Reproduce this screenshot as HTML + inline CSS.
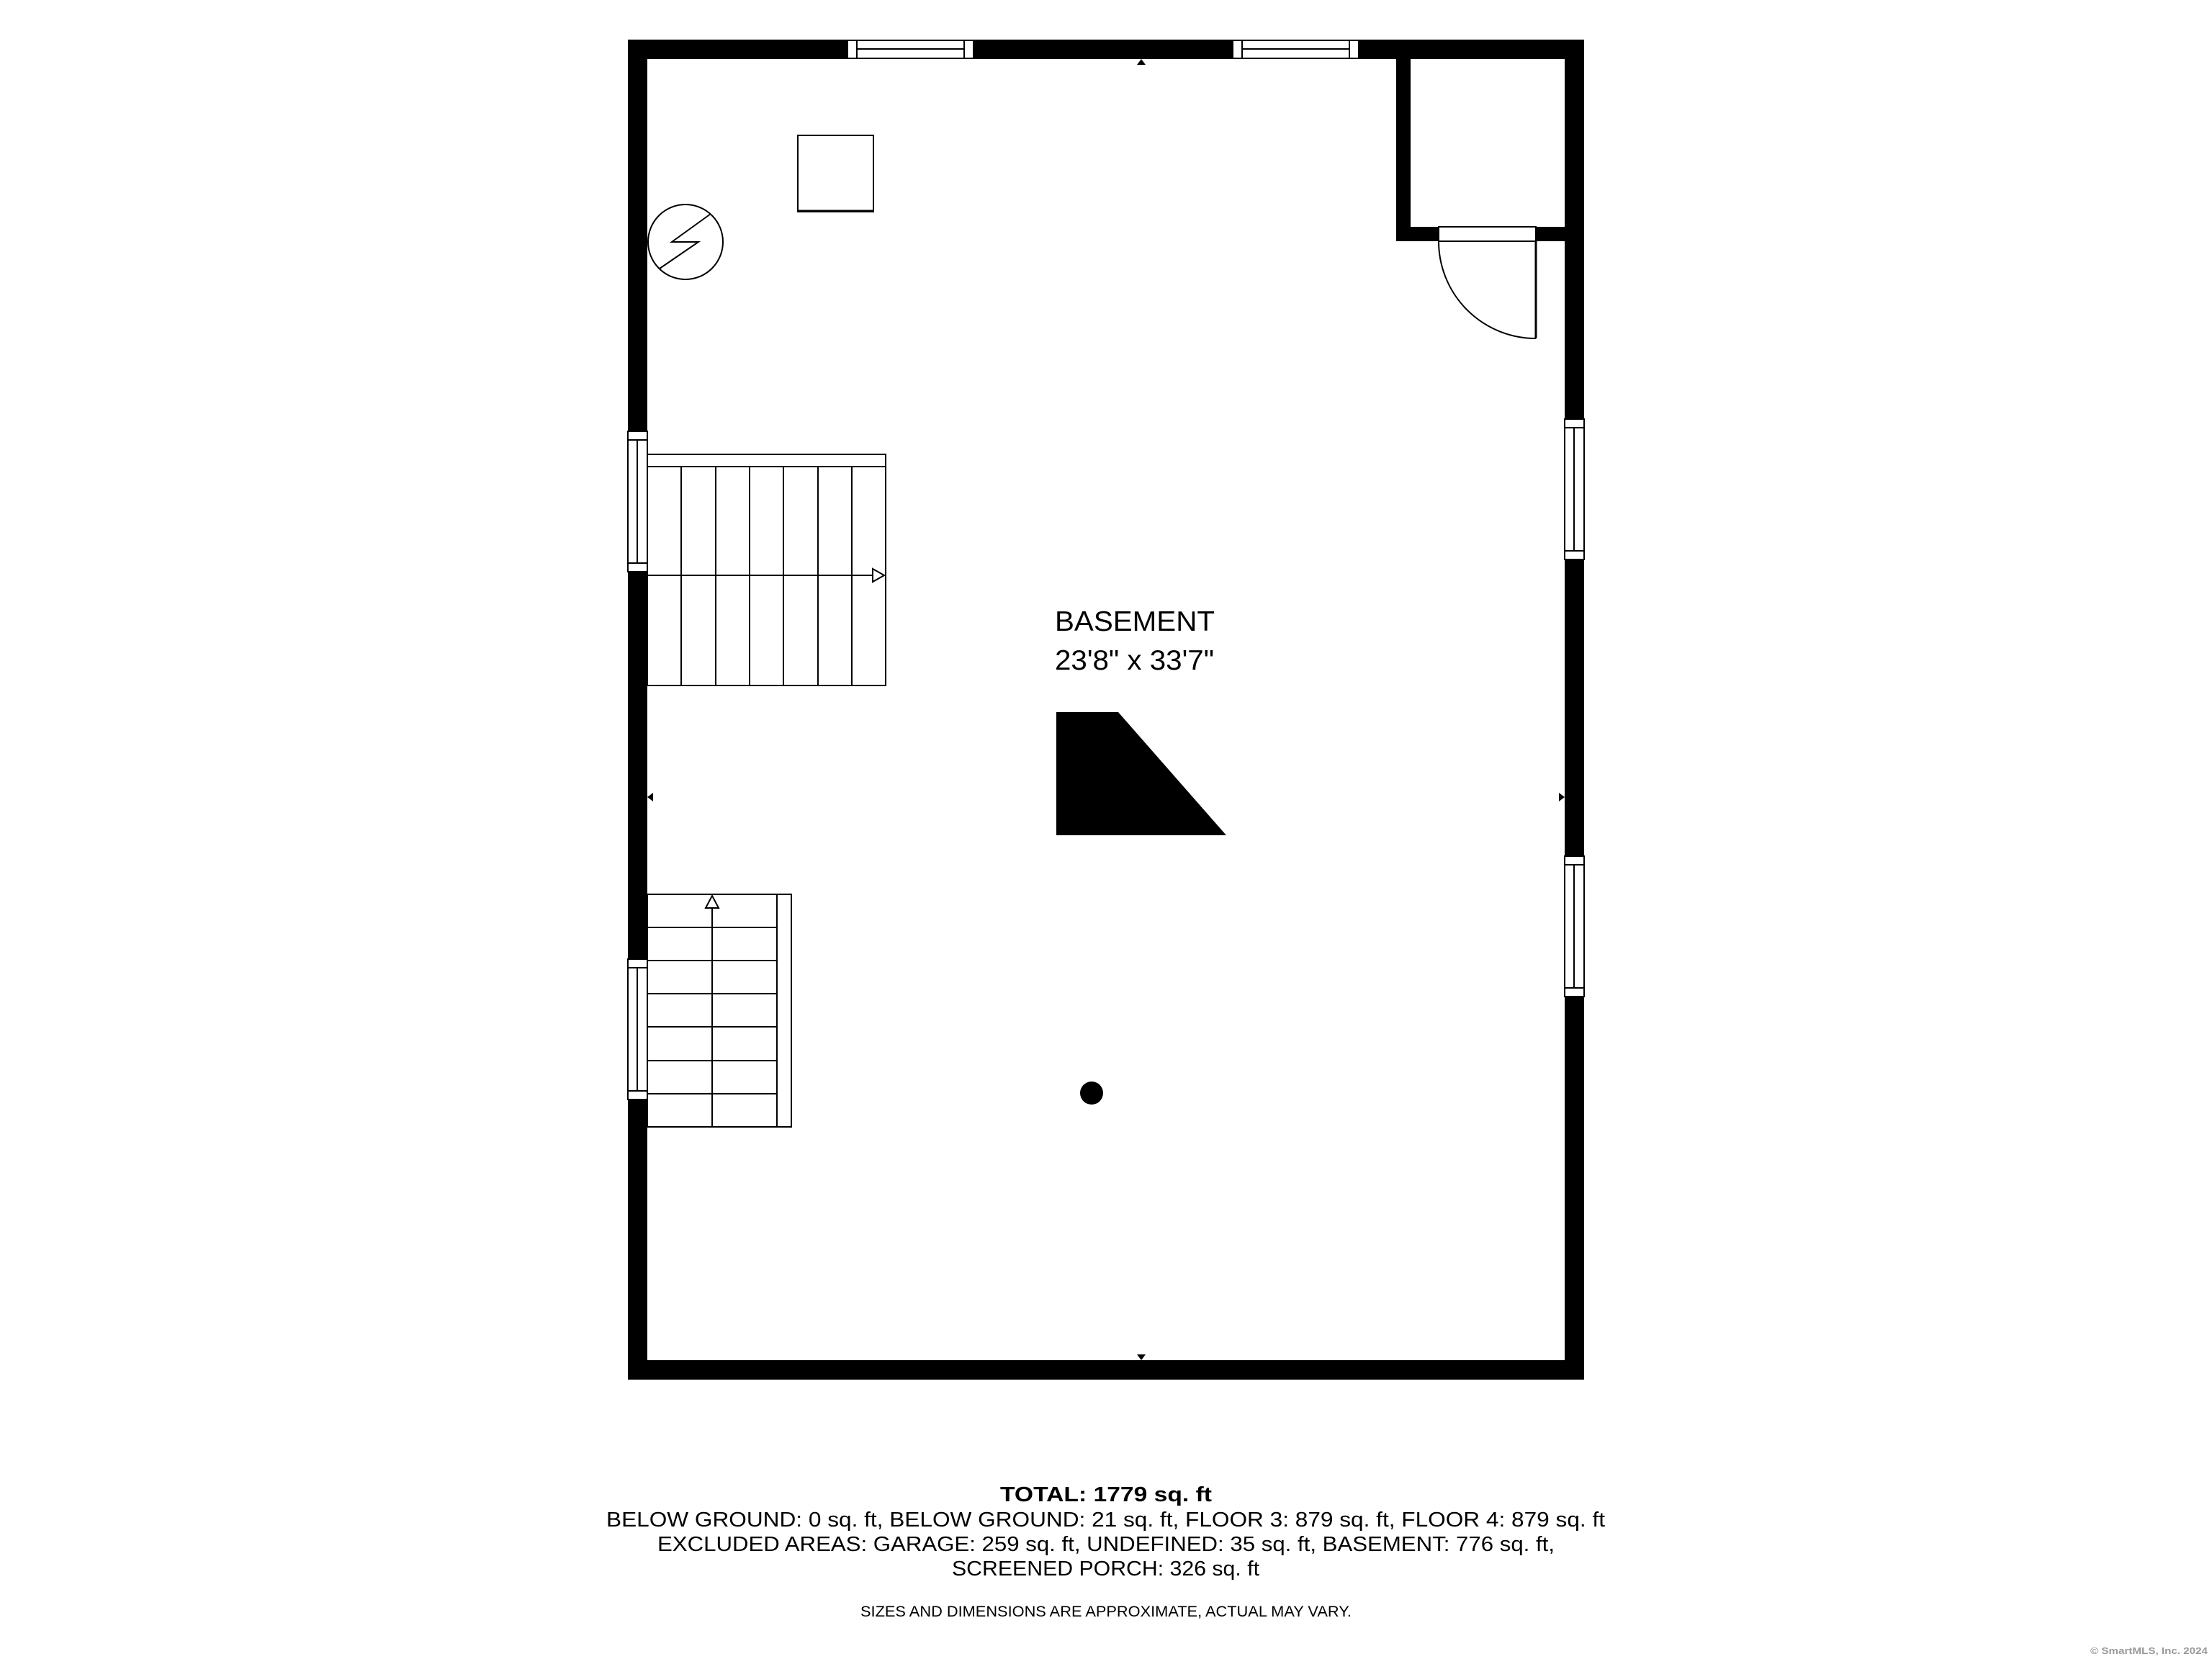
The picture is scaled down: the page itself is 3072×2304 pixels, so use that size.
<!DOCTYPE html>
<html><head><meta charset="utf-8"><style>
html,body{margin:0;padding:0;background:#fff;width:3072px;height:2304px;overflow:hidden}
svg{display:block}
text{font-family:"Liberation Sans",sans-serif;fill:#000}
</style></head><body>
<svg width="3072" height="2304" viewBox="0 0 3072 2304" xmlns="http://www.w3.org/2000/svg">
<!-- outer walls -->
<rect x="872" y="55" width="1328" height="27" fill="#000"/>
<rect x="872" y="1889" width="1328" height="27" fill="#000"/>
<rect x="872" y="55" width="27" height="1861" fill="#000"/>
<rect x="2173" y="55" width="27" height="1861" fill="#000"/>
<!-- closet -->
<rect x="1939" y="55" width="20" height="280" fill="#000"/>
<rect x="1939" y="315" width="261" height="20" fill="#000"/>
<!-- closet door opening -->
<rect x="1998" y="315" width="135" height="20" fill="#fff" stroke="#000" stroke-width="2"/>
<path d="M1998 335 A135 135 0 0 0 2133 470" fill="none" stroke="#000" stroke-width="2"/>
<line x1="2133" y1="335" x2="2133" y2="470" stroke="#000" stroke-width="3"/>
<!-- top windows -->
<g fill="#fff" stroke="#000" stroke-width="2">
<rect x="1177" y="56" width="175" height="25"/>
<line x1="1190" y1="56" x2="1190" y2="81"/><line x1="1339" y1="56" x2="1339" y2="81"/>
<line x1="1190" y1="68" x2="1339" y2="68"/>
<rect x="1712" y="56" width="175" height="25"/>
<line x1="1725" y1="56" x2="1725" y2="81"/><line x1="1874" y1="56" x2="1874" y2="81"/>
<line x1="1725" y1="68" x2="1874" y2="68"/>
<!-- right windows -->
<rect x="2173" y="582" width="27" height="195"/>
<line x1="2173" y1="594" x2="2200" y2="594"/><line x1="2173" y1="765" x2="2200" y2="765"/>
<line x1="2186" y1="594" x2="2186" y2="765"/>
<rect x="2173" y="1189" width="27" height="195"/>
<line x1="2173" y1="1201" x2="2200" y2="1201"/><line x1="2173" y1="1372" x2="2200" y2="1372"/>
<line x1="2186" y1="1201" x2="2186" y2="1372"/>
<!-- left windows -->
<rect x="872" y="599" width="27" height="195"/>
<line x1="872" y1="611" x2="899" y2="611"/><line x1="872" y1="782" x2="899" y2="782"/>
<line x1="885" y1="611" x2="885" y2="782"/>
<rect x="872" y="1332" width="27" height="195"/>
<line x1="872" y1="1344" x2="899" y2="1344"/><line x1="872" y1="1515" x2="899" y2="1515"/>
<line x1="885" y1="1344" x2="885" y2="1515"/>
</g>
<!-- square -->
<rect x="1108" y="188" width="105" height="106" fill="none" stroke="#000" stroke-width="2"/>
<line x1="1108" y1="293" x2="1213" y2="293" stroke="#000" stroke-width="3"/>
<!-- electrical circle -->
<circle cx="952" cy="336" r="52" fill="none" stroke="#000" stroke-width="2"/>
<polyline points="987,297 933,336 970,336 916,373" fill="none" stroke="#000" stroke-width="2"/>
<!-- upper stairs -->
<g fill="none" stroke="#000" stroke-width="2">
<rect x="899" y="631" width="331" height="321"/>
<line x1="899" y1="648" x2="1230" y2="648"/>
<line x1="946" y1="648" x2="946" y2="952"/><line x1="994" y1="648" x2="994" y2="952"/>
<line x1="1041" y1="648" x2="1041" y2="952"/><line x1="1088" y1="648" x2="1088" y2="952"/>
<line x1="1136" y1="648" x2="1136" y2="952"/><line x1="1183" y1="648" x2="1183" y2="952"/>
<line x1="899" y1="799" x2="1228" y2="799"/>
<polygon points="1212,790 1228,799 1212,808" fill="#fff"/>
<!-- lower stairs -->
<rect x="899" y="1242" width="200" height="323"/>
<line x1="1079" y1="1242" x2="1079" y2="1565"/>
<line x1="899" y1="1288" x2="1079" y2="1288"/><line x1="899" y1="1334" x2="1079" y2="1334"/>
<line x1="899" y1="1380" x2="1079" y2="1380"/><line x1="899" y1="1426" x2="1079" y2="1426"/>
<line x1="899" y1="1473" x2="1079" y2="1473"/><line x1="899" y1="1519" x2="1079" y2="1519"/>
<line x1="989" y1="1244" x2="989" y2="1565"/>
<polygon points="980,1261 989,1244 998,1261" fill="#fff"/>
</g>
<!-- small markers -->
<polygon points="1579,90 1585,82 1591,90" fill="#000"/>
<polygon points="1579,1881 1585,1889 1591,1881" fill="#000"/>
<polygon points="907,1101 899,1107 907,1113" fill="#000"/>
<polygon points="2165,1101 2173,1107 2165,1113" fill="#000"/>
<!-- label -->
<text x="1465" y="876" font-size="39" textLength="222" lengthAdjust="spacingAndGlyphs">BASEMENT</text>
<text x="1465" y="930" font-size="39" textLength="221" lengthAdjust="spacingAndGlyphs">23'8" x 33'7"</text>
<!-- black shape -->
<polygon points="1467,989 1553,989 1703,1160 1467,1160" fill="#000"/>
<circle cx="1516" cy="1518" r="16" fill="#000"/>
<!-- footer -->
<text x="1389" y="2085" font-size="29" font-weight="bold" textLength="294" lengthAdjust="spacingAndGlyphs">TOTAL: 1779 sq. ft</text>
<text x="842" y="2120" font-size="29" textLength="1387" lengthAdjust="spacingAndGlyphs">BELOW GROUND: 0 sq. ft, BELOW GROUND: 21 sq. ft, FLOOR 3: 879 sq. ft, FLOOR 4: 879 sq. ft</text>
<text x="913" y="2154" font-size="29" textLength="1246" lengthAdjust="spacingAndGlyphs">EXCLUDED AREAS: GARAGE: 259 sq. ft, UNDEFINED: 35 sq. ft, BASEMENT: 776 sq. ft,</text>
<text x="1322" y="2188" font-size="29" textLength="427" lengthAdjust="spacingAndGlyphs">SCREENED PORCH: 326 sq. ft</text>
<text x="1195" y="2245" font-size="21" textLength="682" lengthAdjust="spacingAndGlyphs">SIZES AND DIMENSIONS ARE APPROXIMATE, ACTUAL MAY VARY.</text>
<text x="2903" y="2297" font-size="13" font-weight="bold" style="fill:#999" textLength="163" lengthAdjust="spacingAndGlyphs">© SmartMLS, Inc.  2024</text>
</svg>
</body></html>
